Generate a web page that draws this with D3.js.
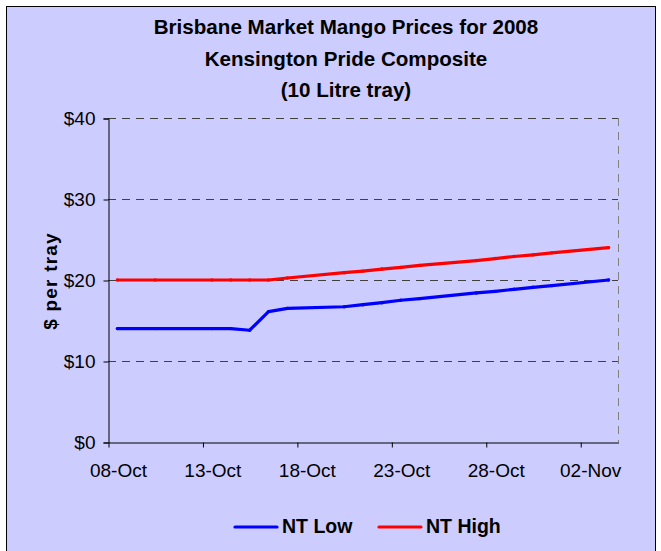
<!DOCTYPE html>
<html>
<head>
<meta charset="utf-8">
<script src="https://cdn.jsdelivr.net/npm/d3@7"></script>
<style>
    body { margin: 0; background: #ffffff; }
    svg { display: block; font-family: "Liberation Sans", Arial, sans-serif; }
</style>
</head>
<body>
<svg id="svg1" width="661" height="551"></svg>
<script>
var width = 661;
var height = 551;

// data
var dates = ["2008-10-08", "2008-10-10", "2008-10-13", "2008-10-14", "2008-10-15", "2008-10-16",
    "2008-10-17", "2008-10-20", "2008-10-21", "2008-10-22", "2008-10-23", "2008-10-24",
    "2008-10-27", "2008-10-28", "2008-10-29", "2008-10-30", "2008-10-31", "2008-11-03"];
var ntLow = [14, 14, 14, 14, 13.8, 16.1, 16.5, 16.7, 16.95, 17.2, 17.5, 17.7, 18.4, 18.6, 18.85, 19.1, 19.3, 20.0];
var ntHigh = [20, 20, 20, 20, 20, 20, 20.25, 20.9, 21.1, 21.35, 21.55, 21.8, 22.4, 22.65, 22.9, 23.1, 23.35, 24.0];

var yTicks = [0, 10, 20, 30, 40];
var xTickDates = ["2008-10-08", "2008-10-13", "2008-10-18", "2008-10-23", "2008-10-28", "2008-11-02"];
var xDomain = ["2008-10-08", "2008-11-04"];

var titleLines = ["Brisbane Market Mango Prices for 2008", "Kensington Pride Composite", "(10 Litre tray)"];
var seriesNames = ["NT Low", "NT High"];
var seriesColors = ["#0000ff", "#ff0000"];

var parseDate = d3.timeParse("%Y-%m-%d");
var formatDate = d3.timeFormat("%d-%b");

var plotLeft = 108, plotRight = 618, plotTop = 118, plotBottom = 442;

var scaleX = d3.scaleTime().domain(xDomain.map(parseDate)).range([plotLeft, plotRight]);
var scaleY = d3.scaleLinear().domain([0, 40]).range([plotBottom, plotTop]);

// points sit in the middle of each day
function dayMid(d) {
    return scaleX(d3.timeHour.offset(d, 12));
}
var halfDay = dayMid(scaleX.domain()[0]) - plotLeft;

var svg = d3.select('#svg1');

// chart area
svg.append('rect')
    .attr('x', 6.5)
    .attr('y', 6.5)
    .attr('width', 649)
    .attr('height', 600)
    .attr('fill', '#ccccff')
    .attr('stroke', '#000000')
    .attr('stroke-width', 1);

// title
svg.selectAll('.title')
    .data(titleLines)
    .enter()
    .append('text')
    .attr('class', 'title')
    .attr('x', 346)
    .attr('y', function(d, i) { return 34 + i * 31.7; })
    .attr('text-anchor', 'middle')
    .style('font-size', '20.6px')
    .style('font-weight', 'bold')
    .text(function(d) { return d; });

// gridlines
svg.selectAll('.grid')
    .data(yTicks.filter(function(d) { return d > 0; }))
    .enter()
    .append('line')
    .attr('class', 'grid')
    .attr('x1', plotLeft)
    .attr('x2', plotRight)
    .attr('y1', function(d) { return scaleY(d) + 0.5; })
    .attr('y2', function(d) { return scaleY(d) + 0.5; })
    .attr('stroke', '#404040')
    .attr('stroke-width', 1)
    .attr('stroke-dasharray', '8,6');

// right border of plot area
svg.append('line')
    .attr('x1', plotRight + 0.5)
    .attr('x2', plotRight + 0.5)
    .attr('y1', plotTop)
    .attr('y2', plotBottom)
    .attr('stroke', '#808080')
    .attr('stroke-width', 1)
    .attr('stroke-dasharray', '8,6');

// y axis
var yAxis = svg.append('g')
    .attr('transform', 'translate(' + (plotLeft + 0.5) + ',0.5)')
    .call(d3.axisLeft(scaleY).tickValues(yTicks).tickSize(5).tickPadding(8)
        .tickFormat(function(d) { return '$' + d; }));
yAxis.select('.domain').attr('stroke', '#000000');
yAxis.selectAll('.tick line').attr('stroke', '#000000');
yAxis.selectAll('text')
    .style('font-size', '19px')
    .style('font-family', '"Liberation Sans", Arial, sans-serif')
    .attr('fill', '#000000');

// x axis
var xAxis = svg.append('g')
    .attr('transform', 'translate(0.5,' + (plotBottom + 0.5) + ')')
    .call(d3.axisBottom(scaleX).tickValues(xTickDates.map(parseDate)).tickSize(5).tickSizeOuter(0)
        .tickPadding(16).tickFormat(formatDate));
xAxis.select('.domain').attr('stroke', '#000000');
xAxis.selectAll('.tick line').attr('stroke', '#000000');
xAxis.selectAll('text')
    .attr('transform', 'translate(' + halfDay + ',0)')
    .style('font-size', '19px')
    .style('font-family', '"Liberation Sans", Arial, sans-serif')
    .attr('fill', '#000000');

// y axis title
svg.append('text')
    .text('$ per tray')
    .attr('transform', 'translate(57,281)rotate(270)')
    .attr('text-anchor', 'middle')
    .style('font-size', '19px')
    .style('font-weight', 'bold')
    .style('letter-spacing', '1.2px');

// lines
var seriesData = [ntLow, ntHigh].map(function(vals) {
    return vals.map(function(v, i) { return { date: parseDate(dates[i]), value: v }; });
});

var makeLine = d3.line()
    .x(function(d) { return dayMid(d.date); })
    .y(function(d) { return scaleY(d.value); });

seriesData.forEach(function(series, k) {
    svg.append('path')
        .datum(series)
        .attr('d', makeLine)
        .attr('fill', 'none')
        .attr('stroke', seriesColors[k])
        .attr('stroke-width', 3.2)
        .attr('stroke-linejoin', 'round')
        .attr('stroke-linecap', 'round');

    svg.selectAll('.marker' + k)
        .data(series)
        .enter()
        .append('circle')
        .attr('class', 'marker' + k)
        .attr('cx', function(d) { return dayMid(d.date); })
        .attr('cy', function(d) { return scaleY(d.value); })
        .attr('r', 1.7)
        .attr('fill', seriesColors[k]);
});

// legend
var legendX = [235, 379];
var legend = svg.selectAll('.legend')
    .data(seriesNames)
    .enter()
    .append('g')
    .attr('class', 'legend')
    .attr('transform', function(d, i) { return 'translate(' + legendX[i] + ',527)'; });

legend.append('line')
    .attr('x1', 0)
    .attr('x2', 42)
    .attr('y1', 0)
    .attr('y2', 0)
    .attr('stroke', function(d, i) { return seriesColors[i]; })
    .attr('stroke-width', 3.2)
    .attr('stroke-linecap', 'round');

legend.append('text')
    .attr('x', 47)
    .attr('y', 6)
    .style('font-size', '19.5px')
    .style('font-weight', 'bold')
    .text(function(d) { return d; });
</script>
</body>
</html>
